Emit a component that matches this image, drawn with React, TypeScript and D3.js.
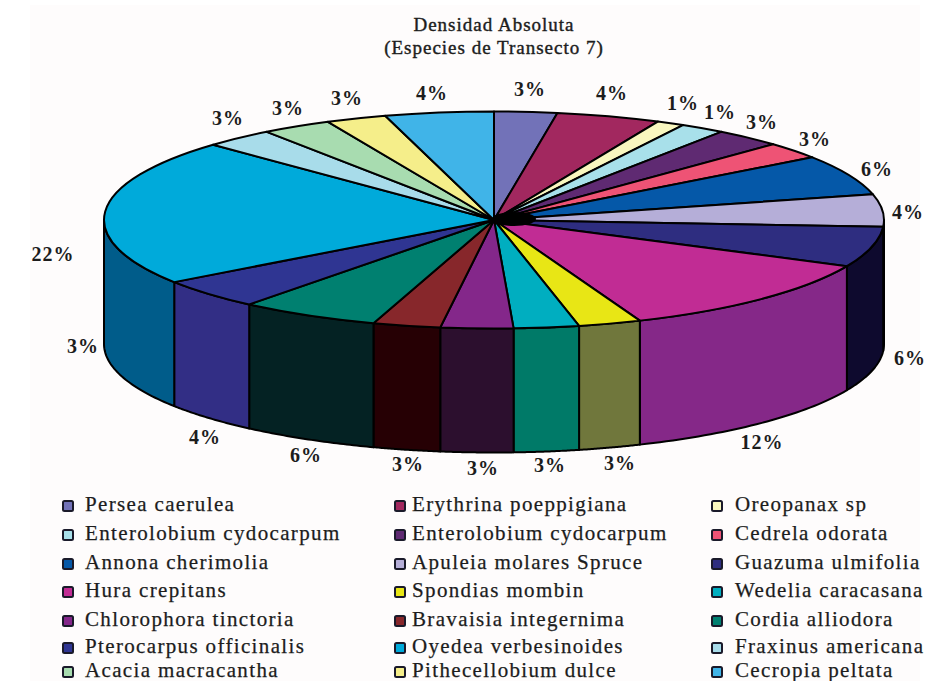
import React from "react";
import * as d3 from "d3";

const W = 928, H = 681;
const species = ["Persea caerulea","Erythrina poeppigiana","Oreopanax sp","Enterolobium cydocarpum","Enterolobium cydocarpum","Cedrela odorata","Annona cherimolia","Apuleia molares Spruce","Guazuma ulmifolia","Hura crepitans","Spondias mombin","Wedelia caracasana","Chlorophora tinctoria","Bravaisia integernima","Cordia alliodora","Pterocarpus officinalis","Oyedea verbesinoides","Fraxinus americana","Acacia macracantha","Pithecellobium dulce","Cecropia peltata"];
const shares = [2.6,4.3,1.15,1.85,2.8,2.5,6,4.8,6,11.9,2.6,2.7,3,2.8,5.8,4.5,21.9,2.9,2.9,2.5,4.5];
const topColors = ["#7272b8","#a2285f","#f9f7bf","#a8e0ea","#5f2a72","#ee5375","#0558a8","#b5aed8","#2e2d80","#c12c94","#e8e615","#00aec0","#84278a","#87272b","#008070","#2f3592","#00aada","#a8dcea","#a8dcb0","#f5ee8a","#40b4e8"];
const sideColors = ["#3a3a5c","#51142f","#7c7b5f","#54707a","#2f1539","#77293a","#032c54","#b5aed8","#0e0a2e","#852888","#70773c","#007a68","#2c0f2e","#260004","#042223","#322e85","#005c8a","#54707a","#546e58","#7a7745","#205a74"];
const pctLabels = ["3%","4%","1%","1%","3%","3%","6%","4%","6%","12%","3%","3%","3%","3%","6%","4%","22%","3%","3%","3%","4%","3%"];
const legendOrder = [0,3,6,9,12,15,18,1,4,7,10,13,16,19,2,5,8,11,14,17,20];

// layout (not data)
const cx = 494, cy = 220, rx = 390, ry = 108.5, depth = 124;
const labelXY: [number, number][] = [[530,96],[612,100],[683,110],[720,119],[762,129],[815,146],[877,176],[908,219],[910,365],[762,449],[620,470],[550,472],[483,475],[408,471],[306,462],[205,444],[53,261],[228,125],[288,115],[347,105],[432,100],[83,353]];
const legendColX = [68, 400, 717];
const legendTextX = [85, 412, 735];
const legendRowY = [506, 535, 564, 592, 621, 648, 672];

const pie = d3.pie<number>().sort(null).value(d => d);
const arcs = pie(shares);
const arcGen = d3.arc<d3.PieArcDatum<number>>().innerRadius(0).outerRadius(rx);
const px = (t: number) => cx + rx * Math.sin(t);
const py = (t: number) => cy - ry * Math.cos(t);
const side = d3.area<number>().x(px).y0(py).y1(t => py(t) + depth);

function sideRange(a: d3.PieArcDatum<number>) {
  const lo = Math.max(a.startAngle, Math.PI / 2), hi = Math.min(a.endAngle, 1.5 * Math.PI);
  if (hi <= lo) return null;
  return d3.range(0, 41).map(i => lo + ((hi - lo) * i) / 40);
}

const serif = "'Liberation Serif', serif";
const ink = "#1c1c1c";

export default function App() {
  return (
    <svg width={W} height={H} viewBox={`0 0 ${W} ${H}`} style={{ position: "absolute", left: 0, top: 0, display: "block", background: "#ffffff" }}>
      <rect x={30} y={5} width={890} height={676} fill="#fefcfc" />
      <g fontFamily={serif} fill={ink} textAnchor="middle" fontSize={19} letterSpacing={1} stroke={ink} strokeWidth={0.4}>
        <text x={494} y={31}>Densidad Absoluta</text>
        <text x={494} y={54}>(Especies de Transecto 7)</text>
      </g>
      <g stroke="#000" strokeWidth={2} strokeLinejoin="round">
        {arcs.map((a, i) => {
          const r = sideRange(a);
          return r ? <path key={i} d={side(r) ?? ""} fill={sideColors[i]} /> : null;
        })}
      </g>
      <g transform={`translate(${cx},${cy}) scale(1,${ry / rx})`}>
        {arcs.map((a, i) => (
          <path key={i} d={arcGen(a) ?? ""} fill={topColors[i]} stroke="#000" strokeWidth={2} vectorEffect="non-scaling-stroke" strokeLinejoin="round" />
        ))}
      </g>
      <ellipse cx={514} cy={219} rx={22} ry={7} fill="#000" />
      <g fontFamily={serif} fontWeight={700} fontSize={20} letterSpacing={1} fill={ink} textAnchor="middle">
        {pctLabels.map((l, i) => (
          <text key={i} x={labelXY[i][0]} y={labelXY[i][1]}>{l}</text>
        ))}
      </g>
      <g fontFamily={serif} fontSize={21} letterSpacing={1.35} fill={ink} stroke={ink} strokeWidth={0.25}>
        {legendOrder.map((s, k) => {
          const col = Math.floor(k / 7), row = k % 7;
          const y = legendRowY[row];
          return (
            <g key={k}>
              <rect x={legendColX[col] - 5} y={y - 5} width={10} height={10} rx={1.5} fill={topColors[s]} stroke="#1a1a2a" strokeWidth={2} />
              <text x={legendTextX[col]} y={y + 5}>{species[s]}</text>
            </g>
          );
        })}
      </g>
    </svg>
  );
}
